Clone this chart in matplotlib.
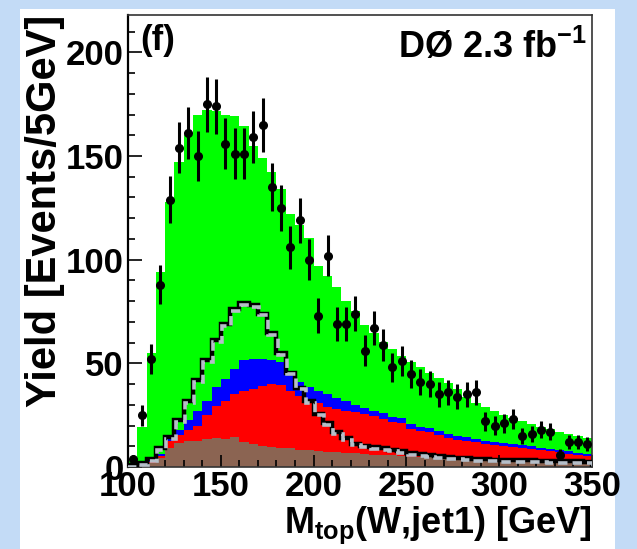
import numpy as np
import matplotlib
matplotlib.use('Agg')
import matplotlib.pyplot as plt
import matplotlib.transforms as mtransforms
from matplotlib.patches import Rectangle

plt.rcParams['font.family'] = ['Liberation Sans', 'DejaVu Sans']
plt.rcParams['font.weight'] = 'bold'
plt.rcParams['axes.labelweight'] = 'bold'
plt.rcParams['mathtext.fontset'] = 'custom'
plt.rcParams['mathtext.rm'] = 'Liberation Sans:bold'
plt.rcParams['mathtext.it'] = 'Liberation Sans:bold'
plt.rcParams['mathtext.bf'] = 'Liberation Sans:bold'

# 5 GeV bins from 100 to 350
bin_lo = 100
bin_hi = 350
bin_w = 5

data_counts = [4, 25, 52, 88, 129, 154, 161, 150, 175, 174,
               156, 151, 151, 159, 165, 135, 125, 106, 119, 100,
               73, 102, 69, 69, 74, 56, 67, 59, 48, 51,
               45, 41, 40, 35, 36, 34, 35, 36, 22, 20,
               21, 23, 15, 16, 18, 17, 6, 12, 12, 11]

brown = [0.5, 1, 2, 4.5, 9, 11.5, 12.4, 12.4, 13.5, 14,
         13.5, 14.5, 12, 11, 10, 9.8, 9.3, 9, 8.4, 8.2,
         7.6, 7.4, 7, 6.9, 6.7, 6.2, 6, 5.8, 5.7, 5.5,
         5, 4.8, 4.6, 4.2, 4, 3.8, 3.6, 3.4, 3.2, 3.1,
         3, 2.9, 2.8, 2.7, 2.6, 2.5, 2.4, 2.3, 2.2, 2.1]

red = [0.1, 0.2, 0.5, 1.0, 3.4, 4.0, 5.6, 7.6, 11.5, 15.4,
       18.5, 20.5, 24.7, 26.6, 28.9, 30.2, 30.2, 27.7, 25.9, 24.1,
       23.1, 21.6, 20.8, 20.1, 19.6, 19.6, 18.5, 17.2, 16.1, 15.5,
       13.3, 12.6, 12.4, 11.4, 10.2, 9.4, 9.0, 8.6, 7.8, 7.6,
       7.2, 6.9, 6.5, 6.0, 5.6, 5.1, 4.6, 4.1, 3.7, 3.3]

blue = [0.1, 0.2, 0.5, 1.0, 1.1, 2.5, 4.9, 7.0, 6.9, 9.0,
        10.5, 12.3, 14.7, 14.6, 13.0, 11.4, 11.1, 8.2, 6.5, 6.1,
        6.0, 6.1, 5.7, 4.9, 3.5, 2.8, 2.3, 3.0, 2.5, 2.5,
        2.3, 2.0, 1.8, 1.7, 1.7, 1.9, 1.9, 1.6, 1.5, 1.3,
        1.2, 1.2, 1.1, 1.2, 1.1, 1.1, 1.1, 1.1, 1.0, 1.0]

green = [2.3, 18.1, 52.0, 87.5, 114.5, 129.0, 137.1, 143.0, 140.1, 133.1,
         127.5, 122.2, 113.1, 102.8, 97.1, 91.1, 83.4, 77.1, 75.7, 72.1,
         60.3, 56.9, 53.5, 48.1, 45.2, 39.9, 37.7, 34.5, 32.7, 30.0,
         29.9, 28.6, 26.7, 25.7, 24.6, 22.4, 19.5, 17.4, 16.5, 15.0,
         13.6, 12.5, 11.6, 10.6, 10.2, 9.8, 8.9, 8.5, 8.1, 7.6]

signal = [1, 2, 4, 9, 14.6, 22.8, 31.8, 42, 51.5, 61.2,
          69, 76, 79, 78, 74, 64.5, 55, 45.5, 38.3, 31.8,
          25.8, 21.3, 17, 14, 11.3, 10.3, 9.5, 9, 8.4, 7.6,
          6.8, 6.2, 5.6, 5.2, 4.8, 4.5, 4.2, 4, 3.8, 3.6,
          3.5, 3.4, 3.3, 3.2, 3.1, 3, 2.9, 2.8, 2.7, 2.6]

edges = np.arange(bin_lo, bin_hi + bin_w, bin_w)
centers = 0.5 * (edges[:-1] + edges[1:])

fig = plt.figure(figsize=(6.37, 5.49), dpi=100)
fig.patch.set_facecolor('#c3dbf6')
panel = Rectangle((20 / 637, 0), 595 / 637, 540 / 549,
                  transform=fig.transFigure, facecolor='white',
                  edgecolor='none', zorder=-10)
fig.patches.append(panel)

ax = fig.add_axes([128 / 637, 82 / 549, 464 / 637, 452 / 549])
ax.set_zorder(1)

# stacked histogram
layers = [brown, red, blue, green]
colors = ['#8b6452', '#ff0000', '#0000ff', '#00ff00']
bottom = np.zeros(len(edges) - 1)
for vals, col in zip(layers, colors):
    top = bottom + np.array(vals)
    ax.stairs(top, edges, baseline=bottom, fill=True, color=col, lw=0)
    bottom = top

# signal: black line with grey dashes on top
ax.stairs(signal, edges, color='black', lw=3.2, zorder=3)
off = mtransforms.offset_copy(ax.transData, fig=fig, x=0.9, y=-1.3, units='points')
ax.stairs(signal, edges, color='#b5bec8', lw=2.6, linestyle=(0, (2.6, 1.4)),
          transform=off, zorder=4)

# data
counts = np.array(data_counts, dtype=float)
ax.errorbar(centers, counts, yerr=np.sqrt(counts), fmt='o', color='black',
            ms=5.5, elinewidth=2.2, capsize=0, zorder=5)

ax.set_xlim(100, 350)
ax.set_ylim(0, 218)
ax.set_xticks([100, 150, 200, 250, 300, 350])
ax.set_xticks(np.arange(100, 351, 10), minor=True)
ax.set_yticks([0, 50, 100, 150, 200])
ax.set_yticks(np.arange(0, 218, 10), minor=True)
ax.tick_params(which='both', direction='in', top=False, right=False,
               labelsize=25, width=1.2, color='black')
ax.tick_params(axis='y', which='major', length=10, pad=3)
ax.tick_params(axis='y', which='minor', length=5)
ax.tick_params(axis='x', which='major', length=9, pad=2)
ax.tick_params(axis='x', which='minor', length=5)
for s in ax.spines.values():
    s.set_linewidth(1.2)
    s.set_color('#333333')
ax.spines['left'].set_color('black')
ax.spines['left'].set_linewidth(1.6)

ax.set_ylabel('Yield [Events/5GeV]', fontsize=30, loc='top', labelpad=1)
ax.set_xlabel(r'M$_{\mathrm{top}}$(W,jet1) [GeV]', fontsize=26, loc='right', labelpad=1)

ax.text(0.026, 0.923, '(f)', transform=ax.transAxes, fontsize=25,
        ha='left', va='baseline')
ax.text(0.989, 0.905, r'DØ 2.3 fb$^{\mathrm{-1}}$', transform=ax.transAxes,
        fontsize=26, ha='right', va='baseline')

fig.savefig('out.png', dpi=100, facecolor=fig.get_facecolor())
